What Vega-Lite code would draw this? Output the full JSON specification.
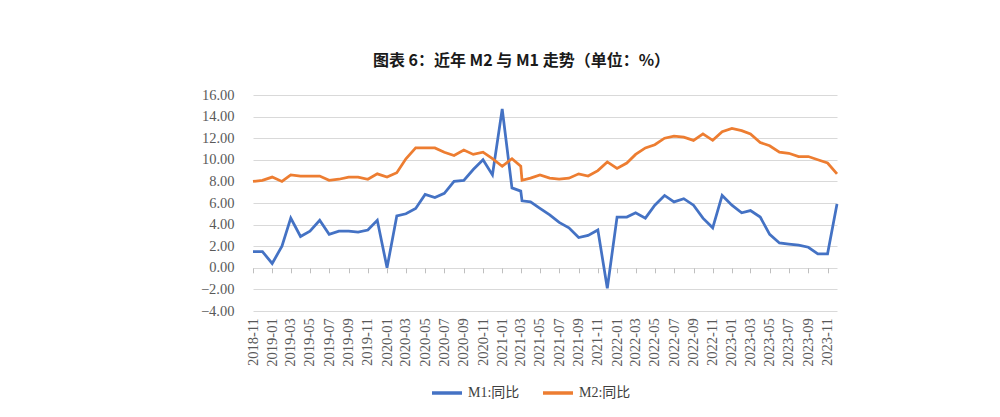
{
  "$schema": "https://vega.github.io/schema/vega-lite/v6.json",
  "width": 584,
  "height": 216,
  "autosize": {"type": "none"},
  "padding": {"left": 253, "top": 95, "right": 163, "bottom": 106},
  "background": "white",
  "title": {
    "text": "图表 6：近年 M2 与 M1 走势（单位：%）",
    "font": "Noto Sans CJK SC",
    "fontSize": 16,
    "fontWeight": "bold",
    "color": "#1a1a1a",
    "frame": "bounds",
    "anchor": "middle",
    "offset": 18
  },
  "data": {
    "format": {"parse": {"date": "utc:'%Y-%m-%d'"}},
    "values": [
      {"date": "2018-11-01", "M1": 1.5, "M2": 8.0},
      {"date": "2018-12-01", "M1": 1.5, "M2": 8.1},
      {"date": "2019-01-01", "M1": 0.4, "M2": 8.4},
      {"date": "2019-02-01", "M1": 2.0, "M2": 8.0},
      {"date": "2019-03-01", "M1": 4.6, "M2": 8.6},
      {"date": "2019-04-01", "M1": 2.9, "M2": 8.5},
      {"date": "2019-05-01", "M1": 3.4, "M2": 8.5},
      {"date": "2019-06-01", "M1": 4.4, "M2": 8.5},
      {"date": "2019-07-01", "M1": 3.1, "M2": 8.1},
      {"date": "2019-08-01", "M1": 3.4, "M2": 8.2},
      {"date": "2019-09-01", "M1": 3.4, "M2": 8.4},
      {"date": "2019-10-01", "M1": 3.3, "M2": 8.4},
      {"date": "2019-11-01", "M1": 3.5, "M2": 8.2},
      {"date": "2019-12-01", "M1": 4.4, "M2": 8.7},
      {"date": "2020-01-01", "M1": 0.0, "M2": 8.4},
      {"date": "2020-02-01", "M1": 4.8, "M2": 8.8},
      {"date": "2020-03-01", "M1": 5.0, "M2": 10.1},
      {"date": "2020-04-01", "M1": 5.5, "M2": 11.1},
      {"date": "2020-05-01", "M1": 6.8, "M2": 11.1},
      {"date": "2020-06-01", "M1": 6.5, "M2": 11.1},
      {"date": "2020-07-01", "M1": 6.9, "M2": 10.7},
      {"date": "2020-08-01", "M1": 8.0, "M2": 10.4},
      {"date": "2020-09-01", "M1": 8.1, "M2": 10.9},
      {"date": "2020-10-01", "M1": 9.1, "M2": 10.5},
      {"date": "2020-11-01", "M1": 10.0, "M2": 10.7},
      {"date": "2020-12-01", "M1": 8.6, "M2": 10.1},
      {"date": "2021-01-01", "M1": 14.7, "M2": 9.4},
      {"date": "2021-02-01", "M1": 7.4, "M2": 10.1},
      {"date": "2021-03-01", "M1": 7.1, "M2": 9.4},
      {"date": "2021-03-05", "M1": 6.2, "M2": 8.1},
      {"date": "2021-04-01", "M1": 6.1, "M2": 8.3},
      {"date": "2021-05-01", "M1": 5.5, "M2": 8.6},
      {"date": "2021-06-01", "M1": 4.9, "M2": 8.3},
      {"date": "2021-07-01", "M1": 4.2, "M2": 8.2},
      {"date": "2021-08-01", "M1": 3.7, "M2": 8.3},
      {"date": "2021-09-01", "M1": 2.8, "M2": 8.7},
      {"date": "2021-10-01", "M1": 3.0, "M2": 8.5},
      {"date": "2021-11-01", "M1": 3.5, "M2": 9.0},
      {"date": "2021-12-01", "M1": -1.9, "M2": 9.8},
      {"date": "2022-01-01", "M1": 4.7, "M2": 9.2},
      {"date": "2022-02-01", "M1": 4.7, "M2": 9.7},
      {"date": "2022-03-01", "M1": 5.1, "M2": 10.5},
      {"date": "2022-04-01", "M1": 4.6, "M2": 11.1},
      {"date": "2022-05-01", "M1": 5.8, "M2": 11.4},
      {"date": "2022-06-01", "M1": 6.7, "M2": 12.0},
      {"date": "2022-07-01", "M1": 6.1, "M2": 12.2},
      {"date": "2022-08-01", "M1": 6.4, "M2": 12.1},
      {"date": "2022-09-01", "M1": 5.8, "M2": 11.8},
      {"date": "2022-10-01", "M1": 4.6, "M2": 12.4},
      {"date": "2022-11-01", "M1": 3.7, "M2": 11.8},
      {"date": "2022-12-01", "M1": 6.7, "M2": 12.6},
      {"date": "2023-01-01", "M1": 5.8, "M2": 12.9},
      {"date": "2023-02-01", "M1": 5.1, "M2": 12.7},
      {"date": "2023-03-01", "M1": 5.3, "M2": 12.4},
      {"date": "2023-04-01", "M1": 4.7, "M2": 11.6},
      {"date": "2023-05-01", "M1": 3.1, "M2": 11.3},
      {"date": "2023-06-01", "M1": 2.3, "M2": 10.7},
      {"date": "2023-07-01", "M1": 2.2, "M2": 10.6},
      {"date": "2023-08-01", "M1": 2.1, "M2": 10.3},
      {"date": "2023-09-01", "M1": 1.9, "M2": 10.3},
      {"date": "2023-10-01", "M1": 1.3, "M2": 10.0},
      {"date": "2023-11-01", "M1": 1.3, "M2": 9.7},
      {"date": "2023-12-01", "M1": 5.9, "M2": 8.7}
    ]
  },
  "transform": [{"fold": ["M1", "M2"], "as": ["series", "value"]}],
  "mark": {"type": "line", "strokeWidth": 2.75},
  "encoding": {
    "x": {
      "field": "date",
      "type": "temporal",
      "scale": {
        "type": "utc",
        "domain": [
          {"year": 2018, "month": 11, "date": 1, "utc": true},
          {"year": 2023, "month": 12, "date": 1, "utc": true}
        ]
      },
      "axis": {
        "title": null,
        "labelExpr": "utcFormat(datum.value, '%Y-%m')",
        "tickCount": {"interval": "month", "step": 2},
        "offset": -43.2,
        "ticks": true,
        "tickSize": 5,
        "tickColor": "#bfbfbf",
        "tickWidth": 1,
        "labelAngle": -90,
        "labelFont": "Liberation Serif",
        "labelFontSize": 14.5,
        "labelColor": "#595959",
        "labelPadding": 45,
        "labelOverlap": false,
        "labelFlush": false,
        "labelBound": false,
        "domain": false,
        "grid": false
      }
    },
    "y": {
      "field": "value",
      "type": "quantitative",
      "scale": {"domain": [-4, 16], "nice": false, "zero": false},
      "axis": {
        "title": null,
        "values": [-4, -2, 0, 2, 4, 6, 8, 10, 12, 14, 16],
        "format": ".2f",
        "labelFont": "Liberation Serif",
        "labelFontSize": 14.5,
        "labelColor": "#595959",
        "labelPadding": 19,
        "labelOverlap": false,
        "domain": false,
        "ticks": false,
        "grid": true,
        "gridColor": "#d9d9d9",
        "gridWidth": 1
      }
    },
    "color": {
      "field": "series",
      "type": "nominal",
      "scale": {"domain": ["M1", "M2"], "range": ["#4472C4", "#ED7D31"]},
      "legend": {
        "title": null,
        "orient": "none",
        "legendX": 177,
        "legendY": 281,
        "direction": "horizontal",
        "symbolType": "stroke",
        "symbolSize": 900,
        "symbolStrokeWidth": 3.5,
        "labelExpr": "datum.label + ':同比'",
        "labelFont": "Liberation Serif, Noto Sans CJK SC",
        "labelFontSize": 14,
        "labelColor": "#404040",
        "columnPadding": 16
      }
    }
  },
  "config": {
    "view": {"stroke": null}
  }
}
